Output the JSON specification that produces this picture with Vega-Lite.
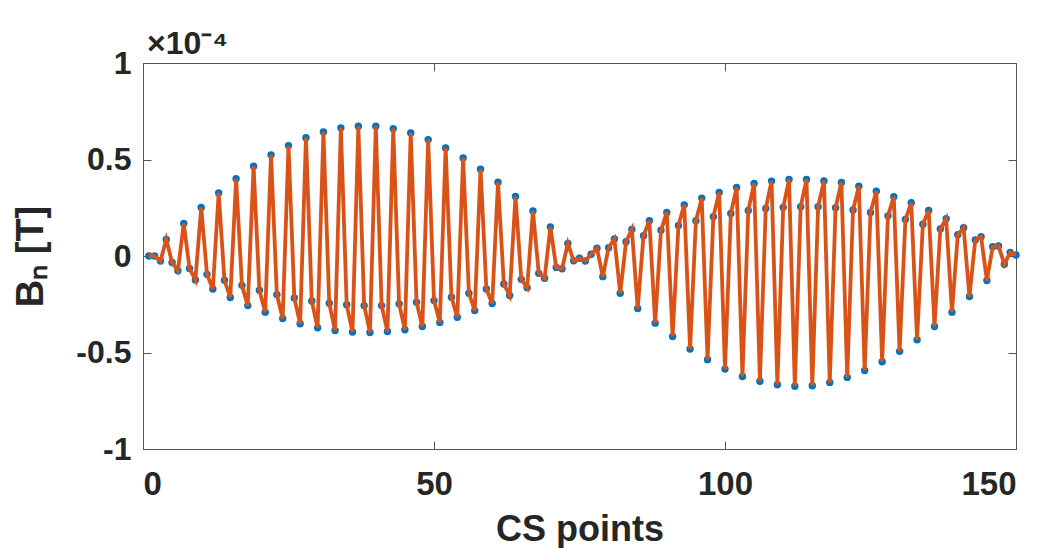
{
  "$schema": "https://vega.github.io/schema/vega-lite/v6.json",
  "autosize": {"type": "none"},
  "padding": {"left": 143, "top": 63, "right": 32, "bottom": 99},
  "width": 873,
  "height": 386,
  "background": "white",
  "config": {
    "font": "Liberation Sans",
    "view": {"stroke": "#555555", "strokeWidth": 1},
    "axis": {
      "grid": false,
      "domainColor": "#555555",
      "tickColor": "#555555",
      "tickSize": -8,
      "labelFont": "Liberation Sans",
      "labelFontWeight": "bold",
      "labelColor": "#262626",
      "titleFont": "Liberation Sans",
      "titleFontWeight": "bold",
      "titleColor": "#262626"
    }
  },
  "title": {
    "text": "×10⁻⁴",
    "anchor": "start",
    "frame": "group",
    "fontSize": 32,
    "fontWeight": "bold",
    "color": "#262626",
    "offset": 8,
    "dx": 4,
    "dy": 22
  },
  "data": {
    "values": [
      {"x": 1, "y": 0}, {"x": 2, "y": 0}, {"x": 3, "y": -0.026}, {"x": 4, "y": 0.086}, {"x": 5, "y": -0.034},
      {"x": 6, "y": -0.076}, {"x": 7, "y": 0.169}, {"x": 8, "y": -0.065}, {"x": 9, "y": -0.124}, {"x": 10, "y": 0.251},
      {"x": 11, "y": -0.095}, {"x": 12, "y": -0.171}, {"x": 13, "y": 0.327}, {"x": 14, "y": -0.126}, {"x": 15, "y": -0.215},
      {"x": 16, "y": 0.4}, {"x": 17, "y": -0.152}, {"x": 18, "y": -0.257}, {"x": 19, "y": 0.465}, {"x": 20, "y": -0.177},
      {"x": 21, "y": -0.291}, {"x": 22, "y": 0.524}, {"x": 23, "y": -0.2}, {"x": 24, "y": -0.324}, {"x": 25, "y": 0.572},
      {"x": 26, "y": -0.217}, {"x": 27, "y": -0.351}, {"x": 28, "y": 0.613}, {"x": 29, "y": -0.233}, {"x": 30, "y": -0.372},
      {"x": 31, "y": 0.643}, {"x": 32, "y": -0.245}, {"x": 33, "y": -0.386}, {"x": 34, "y": 0.664}, {"x": 35, "y": -0.253},
      {"x": 36, "y": -0.394}, {"x": 37, "y": 0.672}, {"x": 38, "y": -0.257}, {"x": 39, "y": -0.396}, {"x": 40, "y": 0.672},
      {"x": 41, "y": -0.257}, {"x": 42, "y": -0.391}, {"x": 43, "y": 0.66}, {"x": 44, "y": -0.248}, {"x": 45, "y": -0.382},
      {"x": 46, "y": 0.637}, {"x": 47, "y": -0.239}, {"x": 48, "y": -0.365}, {"x": 49, "y": 0.603}, {"x": 50, "y": -0.231},
      {"x": 51, "y": -0.344}, {"x": 52, "y": 0.56}, {"x": 53, "y": -0.214}, {"x": 54, "y": -0.317}, {"x": 55, "y": 0.508},
      {"x": 56, "y": -0.193}, {"x": 57, "y": -0.283}, {"x": 58, "y": 0.45}, {"x": 59, "y": -0.171}, {"x": 60, "y": -0.246},
      {"x": 61, "y": 0.382}, {"x": 62, "y": -0.145}, {"x": 63, "y": -0.205}, {"x": 64, "y": 0.308}, {"x": 65, "y": -0.121},
      {"x": 66, "y": -0.164}, {"x": 67, "y": 0.233}, {"x": 68, "y": -0.09}, {"x": 69, "y": -0.115}, {"x": 70, "y": 0.15},
      {"x": 71, "y": -0.059}, {"x": 72, "y": -0.066}, {"x": 73, "y": 0.065}, {"x": 74, "y": -0.025}, {"x": 75, "y": -0.012},
      {"x": 76, "y": -0.026}, {"x": 77, "y": 0.009}, {"x": 78, "y": 0.04}, {"x": 79, "y": -0.107}, {"x": 80, "y": 0.043},
      {"x": 81, "y": 0.088}, {"x": 82, "y": -0.193}, {"x": 83, "y": 0.074}, {"x": 84, "y": 0.138}, {"x": 85, "y": -0.272},
      {"x": 86, "y": 0.105}, {"x": 87, "y": 0.183}, {"x": 88, "y": -0.348}, {"x": 89, "y": 0.133}, {"x": 90, "y": 0.226},
      {"x": 91, "y": -0.417}, {"x": 92, "y": 0.158}, {"x": 93, "y": 0.265}, {"x": 94, "y": -0.482}, {"x": 95, "y": 0.183},
      {"x": 96, "y": 0.3}, {"x": 97, "y": -0.537}, {"x": 98, "y": 0.203}, {"x": 99, "y": 0.329}, {"x": 100, "y": -0.586},
      {"x": 101, "y": 0.22}, {"x": 102, "y": 0.355}, {"x": 103, "y": -0.624}, {"x": 104, "y": 0.236}, {"x": 105, "y": 0.376},
      {"x": 106, "y": -0.649}, {"x": 107, "y": 0.246}, {"x": 108, "y": 0.388}, {"x": 109, "y": -0.667}, {"x": 110, "y": 0.252},
      {"x": 111, "y": 0.396}, {"x": 112, "y": -0.675}, {"x": 113, "y": 0.255}, {"x": 114, "y": 0.396}, {"x": 115, "y": -0.672},
      {"x": 116, "y": 0.255}, {"x": 117, "y": 0.389}, {"x": 118, "y": -0.655}, {"x": 119, "y": 0.25}, {"x": 120, "y": 0.381},
      {"x": 121, "y": -0.629}, {"x": 122, "y": 0.238}, {"x": 123, "y": 0.362}, {"x": 124, "y": -0.593}, {"x": 125, "y": 0.226},
      {"x": 126, "y": 0.336}, {"x": 127, "y": -0.548}, {"x": 128, "y": 0.208}, {"x": 129, "y": 0.307}, {"x": 130, "y": -0.494},
      {"x": 131, "y": 0.189}, {"x": 132, "y": 0.276}, {"x": 133, "y": -0.434}, {"x": 134, "y": 0.165}, {"x": 135, "y": 0.236},
      {"x": 136, "y": -0.365}, {"x": 137, "y": 0.14}, {"x": 138, "y": 0.193}, {"x": 139, "y": -0.291}, {"x": 140, "y": 0.11},
      {"x": 141, "y": 0.146}, {"x": 142, "y": -0.21}, {"x": 143, "y": 0.083}, {"x": 144, "y": 0.1}, {"x": 145, "y": -0.127},
      {"x": 146, "y": 0.048}, {"x": 147, "y": 0.052}, {"x": 148, "y": -0.043}, {"x": 149, "y": 0.019}, {"x": 150, "y": 0.005}
    ]
  },
  "layer": [
    {
      "mark": {"type": "point", "filled": true, "size": 55, "color": "#0072BD", "opacity": 1},
      "encoding": {
        "x": {
          "field": "x", "type": "quantitative",
          "scale": {"domain": [0, 150], "nice": false, "zero": false},
          "axis": {
            "values": [0, 50, 100, 150],
            "labelFontSize": 33,
            "labelPadding": 27,
            "labelExpr": "toString(datum.value)",
            "title": "CS points",
            "titleFontSize": 36,
            "titlePadding": 11
          }
        },
        "y": {
          "field": "y", "type": "quantitative",
          "scale": {"domain": [-1, 1], "nice": false, "zero": false},
          "axis": {
            "values": [-1, -0.5, 0, 0.5, 1],
            "labelFontSize": 32,
            "labelPadding": 20,
            "labelExpr": "toString(datum.value)",
            "title": "Bₙ [T]",
            "titleFontSize": 38,
            "titlePadding": 25
          }
        }
      }
    },
    {
      "mark": {"type": "line", "color": "#D95319", "strokeWidth": 3.8, "clip": true},
      "encoding": {
        "x": {"field": "x", "type": "quantitative", "axis": null},
        "y": {"field": "y", "type": "quantitative", "axis": null}
      }
    },
    {
      "mark": {"type": "point", "opacity": 0},
      "encoding": {
        "x": {
          "field": "x", "type": "quantitative",
          "axis": {"orient": "top", "values": [0, 50, 100, 150], "labels": false, "title": null, "domain": false}
        },
        "y": {
          "field": "y", "type": "quantitative",
          "axis": {"orient": "right", "values": [-1, -0.5, 0, 0.5, 1], "labels": false, "title": null, "domain": false}
        }
      }
    }
  ],
  "resolve": {"axis": {"x": "independent", "y": "independent"}}
}
